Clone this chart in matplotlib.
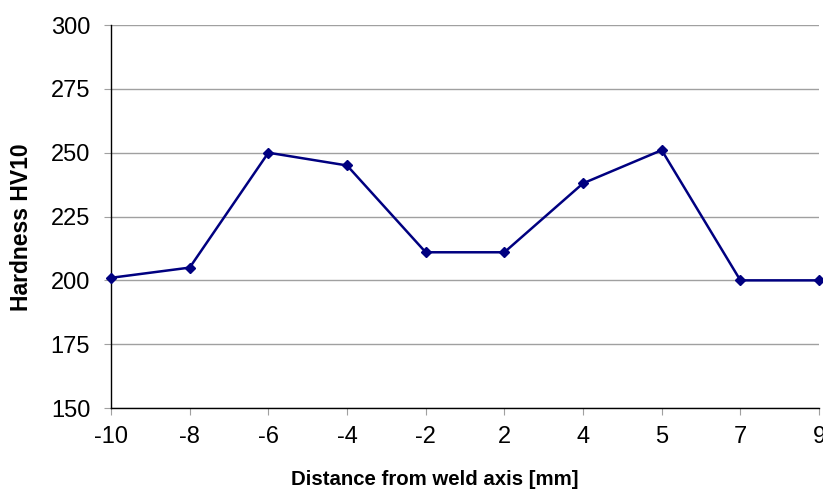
import matplotlib.pyplot as plt

plt.rc("font", family=["Liberation Sans", "DejaVu Sans"])

distance_labels = ["-10", "-8", "-6", "-4", "-2", "2", "4", "5", "7", "9"]
hardness = [201, 205, 250, 245, 211, 211, 238, 251, 200, 200]

fig = plt.figure(figsize=(8.23, 4.91), dpi=100)
ax = fig.add_axes([0.1349, 0.169, 0.8603, 0.780])

pos = list(range(len(distance_labels)))
ax.plot(pos, hardness, color="#000080", linewidth=1.8, marker="D",
        markersize=5, clip_on=False, zorder=3)

ax.set_xlim(0, len(pos) - 1)
ax.set_ylim(150, 300)
ax.set_yticks(range(150, 301, 25))
ax.set_xticks(pos)
ax.set_xticklabels(distance_labels)
ax.grid(axis="y", color="#a0a0a0", linewidth=1)
ax.set_axisbelow(True)

for s in ["top", "right"]:
    ax.spines[s].set_visible(False)
for s in ["left", "bottom"]:
    ax.spines[s].set_color("black")
    ax.spines[s].set_linewidth(1)

ax.tick_params(axis="both", direction="out", length=5, color="#a0a0a0",
               labelsize=17)
ax.tick_params(axis="y", pad=10)
ax.tick_params(axis="x", pad=8)

ax.set_xlabel("Distance from weld axis [mm]", fontsize=14.7, fontweight="bold",
              labelpad=16)
ax.set_ylabel("Hardness HV10", fontsize=16.5, fontweight="bold", labelpad=13)
# labels sit a bit off-centre in the original
ax.xaxis.label.set_x(0.4576)
ax.yaxis.label.set_y(0.4726)

fig.savefig("out.png", dpi=100)
